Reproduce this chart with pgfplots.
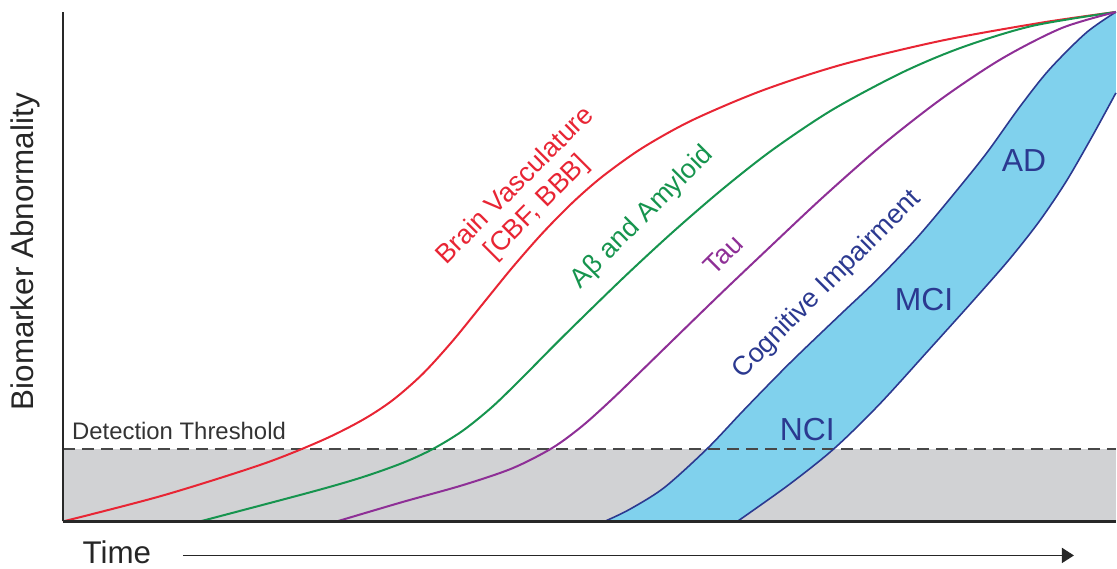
\documentclass[border=0pt]{standalone}
\usepackage{pgfplots}
\pgfplotsset{compat=1.18}
\usepgfplotslibrary{fillbetween}
\usetikzlibrary{arrows.meta}
\usepackage{fontspec}
\setmainfont{Liberation Sans}
\definecolor{cred}{RGB}{232,37,52}
\definecolor{cgreen}{RGB}{22,148,78}
\definecolor{cpurple}{RGB}{142,47,150}
\definecolor{cnavy}{RGB}{43,57,144}
\definecolor{cblue}{RGB}{128,209,237}
\definecolor{cgray}{RGB}{209,210,212}
\definecolor{caxis}{RGB}{40,40,40}
\begin{document}
\begin{tikzpicture}
\begin{axis}[
  set layers, axis on top,
  scale only axis, width=1054bp, height=510bp,
  xmin=0, xmax=1054, ymin=0, ymax=510,
  axis x line*=bottom, axis y line*=left,
  axis line style={line width=2.2bp, caxis, -},
  xtick=\empty, ytick=\empty,
  clip=false,
]
% bounding box of the whole picture
\path (axis cs:-63,-47) rectangle (axis cs:1054,522);
% gray region below detection threshold
\addplot[draw=none, fill=cgray, on layer=axis background] coordinates {(0,0) (1054,0) (1054,73) (0,73)} -- cycle;
% blue band paths
\addplot[name path=up, draw=none, smooth] coordinates {
(542,0) (567,12) (602,34) (645,73) (682,112) (727,158) (777,206) (817,244) (854,283) (887,322) (924,368) (957,414) (987,452) (1024,489) (1054,510)};
\addplot[name path=lo, draw=none, smooth] coordinates {
(675,0) (727,37) (772,73) (817,117) (867,172) (912,222) (947,262) (977,300) (1004,340) (1030,385) (1054,429)};
\addplot[fill=cblue, draw=none] fill between[of=up and lo];
% threshold
\addplot[dash pattern=on 12bp off 7bp, line width=2bp, black!72] coordinates {(0,73) (1054,73)};
% band edges
\addplot[cnavy, line width=1.6bp, smooth] coordinates {
(542,0) (567,12) (602,34) (645,73) (682,112) (727,158) (777,206) (817,244) (854,283) (887,322) (924,368) (957,414) (987,452) (1024,489) (1054,510)};
\addplot[cnavy, line width=1.6bp, smooth] coordinates {
(675,0) (727,37) (772,73) (817,117) (867,172) (912,222) (947,262) (977,300) (1004,340) (1030,385) (1054,429)};
% red
\addplot[cred, line width=2bp, smooth] coordinates {
(0,0) (100,26) (200,57.5) (260,81.5) (300,101.7) (330,121.4) (360,147.6) (390,180.6) (420,217.5) (450,254.4) (480,288.6) (510,319.1) (540,345.3) (580,373.9) (630,401.7) (700,431.4) (780,457.4) (880,481.4) (980,499.4) (1054,510)};
% green
\addplot[cgreen, line width=2bp, smooth] coordinates {
(137,0) (250,29.9) (300,44.4) (340,58.6) (370,72.4) (400,90.7) (430,115) (460,144.1) (500,184.5) (560,243) (610,289.3) (660,332.5) (710,371.8) (770,412) (840,449.4) (900,474.6) (970,496) (1054,510)};
% purple
\addplot[cpurple, line width=2bp, smooth] coordinates {
(274,0) (340,19.5) (400,36.3) (450,53.3) (490,73.7) (520,95.7) (550,122.7) (580,151.7) (620,190.7) (660,229.5) (700,267.5) (760,323.9) (820,376.7) (880,423.5) (940,463.4) (1000,494) (1054,510)};
% labels
\node[cred, rotate=45, align=center, font=\fontsize{27}{31}\selectfont] at (axis cs:464,325) {Brain Vasculature\\{}[CBF, BBB]};
\node[cgreen, rotate=45, font=\fontsize{27}{31}\selectfont] at (axis cs:580,304) {Aβ and Amyloid};
\node[cpurple, rotate=45, font=\fontsize{27}{31}\selectfont] at (axis cs:661,267) {Tau};
\node[cnavy, rotate=45, font=\fontsize{27}{31}\selectfont] at (axis cs:765,237) {Cognitive Impairment};
\node[cnavy, font=\fontsize{32}{36}\selectfont] at (axis cs:862,222) {MCI};
\node[cnavy, font=\fontsize{32}{36}\selectfont] at (axis cs:962,361) {AD};
\node[cnavy, font=\fontsize{32}{36}\selectfont] at (axis cs:745,92) {NCI};
\node[black!80, anchor=base west, inner sep=0pt, font=\fontsize{24}{28}\selectfont] at (axis cs:9,82) {Detection Threshold};
\node[black!85, rotate=90, inner sep=0pt, font=\fontsize{31.5}{36}\selectfont] at (axis cs:-38,270) {Biomarker Abnormality};
\node[black!85, inner sep=0pt, font=\fontsize{31.5}{36}\selectfont] at (axis cs:54,-31) {Time};
\draw[black!85, line width=1.6bp, -{Triangle[length=12bp,width=15bp]}] (axis cs:120,-34) -- (axis cs:1012,-34);
\end{axis}
\end{tikzpicture}
\end{document}
